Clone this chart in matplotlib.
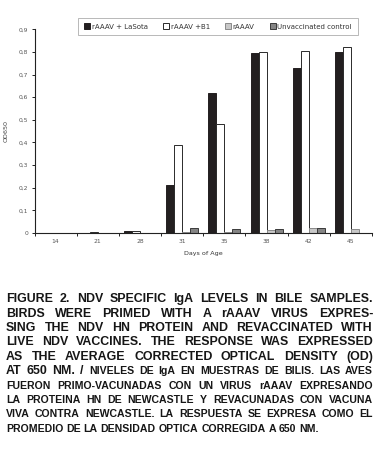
import numpy as np
import matplotlib
matplotlib.use("Agg")
import matplotlib.pyplot as plt
from matplotlib.font_manager import FontProperties

# --- datos ---
days = ["14", "21", "28", "31", "35", "38", "42", "45"]
series = ["rAAAV + LaSota", "rAAAV +B1", "rAAAV", "Unvaccinated control"]
lasota = [0.0, 0.0, 0.007, 0.21, 0.617, 0.794, 0.728, 0.801]
b1 = [0.0, 0.003, 0.007, 0.39, 0.48, 0.798, 0.804, 0.82]
raaav = [0.0, 0.0, 0.0, 0.005, 0.003, 0.013, 0.02, 0.017]
control = [0.0, 0.0, 0.0, 0.024, 0.017, 0.016, 0.02, 0.0]
yticks = [0, 0.1, 0.2, 0.3, 0.4, 0.5, 0.6, 0.7, 0.8, 0.9]
ytick_labels = ["0", "0,1", "0,2", "0,3", "0,4", "0,5", "0,6", "0,7", "0,8", "0,9"]

big_lines = [
    "FIGURE 2. NDV SPECIFIC IgA LEVELS IN BILE SAMPLES.",
    "BIRDS WERE PRIMED WITH A rAAAV VIRUS EXPRES-",
    "SING THE NDV HN PROTEIN AND REVACCINATED WITH",
    "LIVE NDV VACCINES. THE RESPONSE WAS EXPRESSED",
    "AS THE AVERAGE CORRECTED OPTICAL DENSITY (OD)",
]
mixed_big = "AT 650 NM. /"
mixed_small = "NIVELES DE IgA EN MUESTRAS DE BILIS. LAS AVES"
small_lines = [
    "FUERON PRIMO-VACUNADAS CON UN VIRUS rAAAV EXPRESANDO",
    "LA PROTEINA HN DE NEWCASTLE Y REVACUNADAS CON VACUNA",
    "VIVA CONTRA NEWCASTLE. LA RESPUESTA SE EXPRESA COMO EL",
]
last_line = "PROMEDIO DE LA DENSIDAD OPTICA CORREGIDA A 650 NM."

W, H = 378, 449
fig = plt.figure(figsize=(W / 100, H / 100), dpi=100)
ax = fig.add_axes([34.5 / W, (H - 233) / H, (372 - 34.5) / W, (233 - 29.3) / H])

x = np.arange(len(days)) + 0.5
bw = 0.19
styles = [
    dict(color="#231f20", edgecolor="#231f20"),
    dict(color="white", edgecolor="#2a2a2a"),
    dict(color="#c8c8c8", edgecolor="#8a8a8a"),
    dict(color="#858585", edgecolor="#3a3a3a"),
]
for k, (vals, st) in enumerate(zip([lasota, b1, raaav, control], styles)):
    ax.bar(x + (k - 1.5) * bw, vals, bw, linewidth=0.7, label=series[k], **st)

ax.set_xlim(0, len(days))
ax.set_ylim(0, 0.9)
ax.spines["top"].set_visible(False)
ax.spines["right"].set_visible(False)
for s in ("left", "bottom"):
    ax.spines[s].set_linewidth(0.8)
    ax.spines[s].set_color("#222222")
ax.set_yticks(yticks)
ax.set_yticklabels(ytick_labels)
ax.set_xticks(np.arange(len(days) + 1))
ax.set_xticklabels([])
ax.set_xticks(x, minor=True)
ax.set_xticklabels(days, minor=True)
ax.tick_params(axis="both", which="major", length=2.5, width=0.7, color="#222222",
               labelsize=4.3, labelcolor="#555555", pad=2)
ax.tick_params(axis="x", which="minor", length=0, labelsize=4.3, labelcolor="#555555", pad=4)
ax.set_xlabel("Days of Age", fontsize=4.6, color="#333333", labelpad=5)
ax.set_ylabel("OD650", fontsize=4.6, color="#444444")
ax.yaxis.set_label_coords(-(34.5 - 9) / (372 - 34.5), 0.5)

fig.legend(loc="center", ncol=4, mode="expand",
           bbox_to_anchor=(75 / W, 1 - 38 / H, (361 - 75) / W, 23 / H),
           fontsize=5, handlelength=0.9, handleheight=0.9, handletextpad=0.2,
           columnspacing=1.0, frameon=True, fancybox=False, edgecolor="#999999",
           borderpad=0.8, labelcolor="#333333").get_frame().set_linewidth(0.6)

# --- pie de figura justificado ---
renderer = fig.canvas.get_renderer()
X0, X1 = 6, 373
txtcol = "#161616"
FAM = "Liberation Sans"


def wwidth(w, fp):
    return renderer.get_text_width_height_descent(w, fp, ismath=False)[0]


def natural(ln, size):
    fp = FontProperties(family=FAM, weight="bold", size=size)
    return wwidth(ln, fp)


# tamaño de letra: algo menor que el que llena el renglón más largo
size_big = min(7.25 * (X1 - X0) / natural(ln, 7.25) for ln in big_lines) * 0.93
size_small = min(5.9 * (X1 - X0) / natural(ln, 5.9) for ln in small_lines) * 0.93
fbig = FontProperties(family=FAM, weight="bold", size=size_big)
fsmall = FontProperties(family=FAM, weight="bold", size=size_small)


def put_line(words, baseline, justify=True):
    widths = [wwidth(w, fp) for w, fp in words]
    if justify and len(words) > 1:
        gap = (X1 - X0 - sum(widths)) / (len(words) - 1)
    else:
        gap = wwidth("a a", words[0][1]) - 2 * wwidth("a", words[0][1])
    xp = X0
    for (w, fp), wd in zip(words, widths):
        fig.text(xp / W, 1 - baseline / H, w, fontproperties=fp, color=txtcol,
                 ha="left", va="baseline")
        xp += wd + gap


base0, step = 302.3, 14.38
row = 0
for ln in big_lines:
    put_line([(w, fbig) for w in ln.split()], base0 + step * row)
    row += 1
put_line([(w, fbig) for w in mixed_big.split()] + [(w, fsmall) for w in mixed_small.split()],
         base0 + step * row)
row += 1
for ln in small_lines:
    put_line([(w, fsmall) for w in ln.split()], base0 + step * row)
    row += 1
put_line([(w, fsmall) for w in last_line.split()], base0 + step * row, justify=False)

fig.savefig("out.png", dpi=100)
